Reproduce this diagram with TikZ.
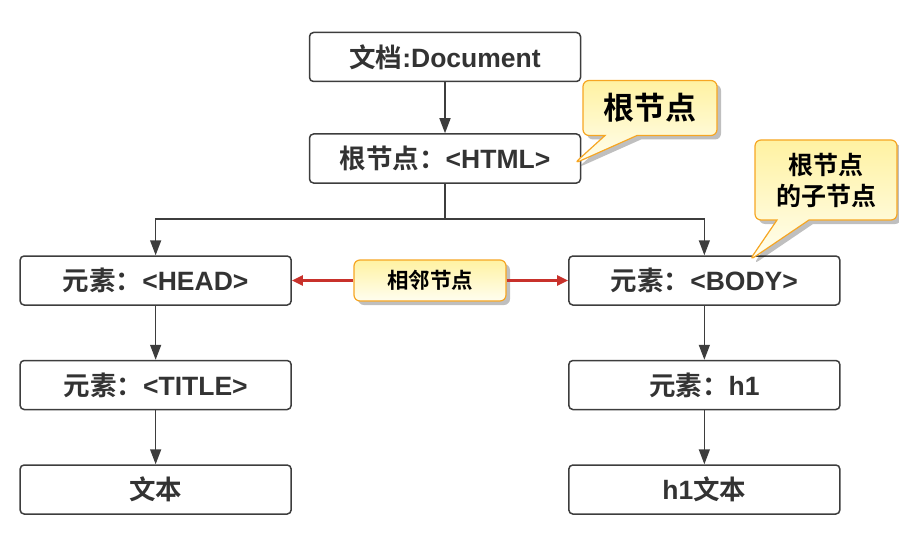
\documentclass[tikz,border=0pt]{standalone}
\usepackage{fontspec}
\setmainfont{Liberation Sans}
\newfontfamily\cjk[BoldFont={Noto Sans CJK SC Bold}]{Noto Sans CJK SC}
\usetikzlibrary{positioning,calc,arrows.meta,shapes.callouts,shadows}
\definecolor{boxline}{HTML}{3D3D3D}
\definecolor{boxtext}{HTML}{333333}
\definecolor{adjred}{HTML}{C8312B}
\definecolor{noteline}{HTML}{F6A623}
\definecolor{notetop}{HTML}{FFF2A2}
\definecolor{notebottom}{HTML}{FFFEF0}
\begin{document}
\begin{tikzpicture}[x=1pt,y=1pt,
square/.style={
% The shape:
rectangle,
draw=boxline,
line width=1.5pt,
rounded corners=4pt,
minimum width=271pt,
minimum height=49pt,
text=boxtext,
font=\fontsize{26.5}{30}\selectfont\bfseries
},
tag/.style={
rectangle,
draw=noteline,
line width=1.2pt,
rounded corners=6pt,
top color=notetop,
bottom color=notebottom,
drop shadow={shadow xshift=4pt,shadow yshift=-4pt,fill=black,opacity=0.25},
align=center
},
note/.style={
tag,
rectangle callout,
callout pointer width=32pt
},
link/.style={-{Triangle[length=15pt,width=11pt]},draw=boxline,line width=1.5pt},
redlink/.style={-{Triangle[length=11pt,width=10pt]},draw=adjred,line width=2.5pt}
]
\useasboundingbox (0,0) rectangle (899,550);
\matrix (tree) at (430,165) [row sep=54pt,column sep=61.5pt] {
% First row:
\node (head) [square] {{\cjk 元素：}<HEAD>}; & \node (adj) [tag,minimum width=152pt,minimum height=41pt,font=\cjk\fontsize{21.5}{25}\selectfont\bfseries] {相邻节点}; & \node (body) [square] {{\cjk 元素：}<BODY>}; \\
\node (title) [square] {{\cjk 元素：}<TITLE>}; & & \node (h1) [square] {{\cjk 元素：}h1}; \\
\node (text) [square] {{\cjk 文本}}; & & \node (h1text) [square] {h1{\cjk 文本}}; \\
};
\node (html) [square] at (445,391.5) {{\cjk 根节点：}<HTML>};
\node (doc) [square,above=51pt of html] {{\cjk 文档}:Document};
\coordinate (fork) at ($(html.south)+(0,-35)$);
\draw [link] (doc) -- (html);
\draw [boxline,line width=1.5pt] (html) -- (fork);
\draw [link] (fork) -| (head);
\draw [link] (fork) -| (body);
\path (head) edge[link] (title) (title) edge[link] (text);
\path (body) edge[link] (h1) (h1) edge[link] (h1text);
\draw [redlink] (adj) -- (head);
\draw [redlink] (adj) -- (body);
\coordinate (roottip) at ($(html.east)+(-7,-5)$);
\coordinate (childtip) at ($(body.north east)+(-91,-5)$);
\node (rootnote) [note,callout absolute pointer={(roottip)},minimum width=134pt,minimum height=55pt,font=\cjk\fontsize{31}{34}\selectfont\bfseries] at (650,442) {根节点};
\node (childnote) [note,callout absolute pointer={(childtip)},minimum width=142pt,minimum height=80pt,font=\cjk\fontsize{25}{31}\selectfont\bfseries] at (826,370) {根节点\\的子节点};
\end{tikzpicture}
\end{document}
